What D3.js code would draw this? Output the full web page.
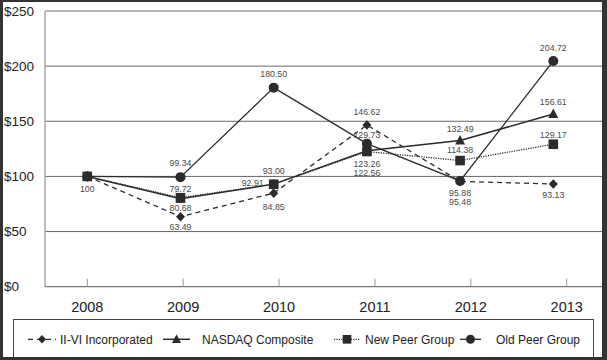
<!DOCTYPE html>
<html><head><meta charset="utf-8">
<script src="https://cdn.jsdelivr.net/npm/d3@7"></script>
<style>html,body{margin:0;padding:0;background:#fff;}svg{display:block;}</style>
</head><body>
<svg id="c" width="607" height="360"></svg>
<script>
// ---- data ----
const years = ["2008", "2009", "2010", "2011", "2012", "2013"];
const seriesNames = ["II-VI Incorporated", "NASDAQ Composite", "New Peer Group", "Old Peer Group"];
const iiviValues = [100, 63.49, 84.85, 146.62, 95.48, 93.13];
const nasdaqValues = [100, 79.72, 93.00, 123.26, 132.49, 156.61];
const newPeerValues = [100, 80.68, 92.91, 122.56, 114.38, 129.17];
const oldPeerValues = [100, 99.34, 180.50, 129.73, 95.88, 204.72];
const yTicks = [0, 50, 100, 150, 200, 250];

// ---- layout / style ----
const W = 607, H = 360;
const svg = d3.select("#c");
const font = "'Liberation Sans', Arial, Helvetica, sans-serif";
const ink = "#2b2b2b";
const y = d3.scaleLinear().domain([0, 250]).range([286.7, 11]);
const xTick = d3.scalePoint().domain(years).range([87.3, 566.7]);
const xMark = d3.scalePoint().domain(years).range([87.3, 553.3]);
const plotL = 45, plotR = 603;

const styles = [
  {dash: "5,4", width: 1.3, marker: "diamond"},
  {dash: null, width: 1.5, marker: "triangle"},
  {dash: "1.2,1.2", width: 1.3, marker: "square"},
  {dash: null, width: 1.3, marker: "circle"}
];
const seriesValues = [iiviValues, nasdaqValues, newPeerValues, oldPeerValues];

// label offsets [dx, dy] per series per year (null = no label)
const labelOffsets = [
  [null, [0, 10.3], [0, 13.5], [0, -12.7], [0, 21], [0, 11]],
  [null, [0, -10], [0, -13], [0, 13.2], [0, -11.6], [0, -11.7]],
  [[0, 12.7], [0, 10], [-21, -1.5], [0, 21.8], [0, -10.6], [0, -9.2]],
  [null, [0, -14], [0, -13.3], [0, -8.3], [0, 12.4], [0, -12.6]]
];

// background
svg.append("rect").attr("x", 0).attr("y", 0).attr("width", W).attr("height", H).attr("fill", "#fff");

// gridlines
yTicks.forEach(t => {
  if (t === 0) return;
  svg.append("line").attr("x1", plotL).attr("x2", plotR)
    .attr("y1", y(t)).attr("y2", y(t))
    .attr("stroke", t === 250 ? "#9a9a9a" : "#666").attr("stroke-width", t === 250 ? 1.5 : 1);
});
// left axis
svg.append("line").attr("x1", plotL).attr("x2", plotL).attr("y1", y(250)).attr("y2", y(0))
  .attr("stroke", "#a8a8a8").attr("stroke-width", 1.5);
// bottom axis
svg.append("line").attr("x1", plotL).attr("x2", plotR).attr("y1", y(0)).attr("y2", y(0))
  .attr("stroke", "#777").attr("stroke-width", 1.2);
// x ticks
years.forEach(yr => {
  svg.append("line").attr("x1", xTick(yr)).attr("x2", xTick(yr)).attr("y1", y(0) - 8).attr("y2", y(0))
    .attr("stroke", "#999").attr("stroke-width", 1);
});

// y labels
yTicks.forEach(t => {
  svg.append("text").attr("x", 4).attr("y", y(t)).attr("dy", "0.35em")
    .attr("font-family", font).attr("font-size", 13.5).attr("fill", "#222")
    .text("$" + t);
});
// x labels
years.forEach(yr => {
  svg.append("text").attr("x", xTick(yr)).attr("y", 312)
    .attr("text-anchor", "middle").attr("font-family", font).attr("font-size", 14.5).attr("fill", "#222")
    .text(yr);
});

function markerPath(kind) {
  if (kind === "diamond") return "M0,-4.8L4.5,0L0,4.8L-4.5,0Z";
  if (kind === "triangle") return "M0,-5.5L5,4L-5,4Z";
  if (kind === "square") return "M-4.8,-4.8H4.8V4.8H-4.8Z";
  return d3.arc()({innerRadius: 0, outerRadius: 5, startAngle: 0, endAngle: 2 * Math.PI});
}

const line = d3.line().x((d, i) => xMark(years[i])).y(d => y(d));

// draw order: II-VI, NASDAQ, Old Peer, New Peer
const order = [0, 1, 3, 2];
order.forEach(si => {
  const st = styles[si];
  const vals = seriesValues[si];
  svg.append("path").attr("d", line(vals)).attr("fill", "none")
    .attr("stroke", ink).attr("stroke-width", st.width)
    .attr("stroke-dasharray", st.dash);
  vals.forEach((v, i) => {
    svg.append("path").attr("d", markerPath(st.marker))
      .attr("transform", `translate(${xMark(years[i])},${y(v)})`)
      .attr("fill", ink);
  });
});

// data labels
const fmt = v => (v === 100 ? "100" : d3.format(".2f")(v));
seriesValues.forEach((vals, si) => {
  vals.forEach((v, i) => {
    const off = labelOffsets[si][i];
    if (!off) return;
    svg.append("text").attr("x", xMark(years[i]) + off[0]).attr("y", y(v) + off[1])
      .attr("dy", "0.35em").attr("text-anchor", "middle")
      .attr("font-family", font).attr("font-size", 8.8).attr("fill", "#4a4a4a")
      .text(fmt(v));
  });
});

// legend
svg.append("rect").attr("x", 13.5).attr("y", 319.5).attr("width", 580).attr("height", 40)
  .attr("fill", "#fff").attr("stroke", "#444").attr("stroke-width", 1);
const legendItems = [
  {x1: 28, x2: 56, tx: 60},
  {x1: 163, x2: 190, tx: 202},
  {x1: 334, x2: 360, tx: 365},
  {x1: 460, x2: 481, tx: 496}
];
const ly = 339.3;
legendItems.forEach((li, si) => {
  const st = styles[si];
  svg.append("line").attr("x1", li.x1).attr("x2", li.x2).attr("y1", ly).attr("y2", ly)
    .attr("stroke", ink).attr("stroke-width", st.width).attr("stroke-dasharray", st.dash);
  svg.append("path").attr("d", markerPath(st.marker))
    .attr("transform", `translate(${(li.x1 + li.x2) / 2},${ly}) scale(0.9)`).attr("fill", ink);
  svg.append("text").attr("x", li.tx).attr("y", ly).attr("dy", "0.35em")
    .attr("font-family", font).attr("font-size", 12).attr("fill", "#222")
    .text(seriesNames[si]);
});

// outer frame
svg.append("rect").attr("x", 0).attr("y", 0).attr("width", 3).attr("height", H).attr("fill", "#333");
svg.append("rect").attr("x", 0).attr("y", 0).attr("width", W).attr("height", 2).attr("fill", "#333");
svg.append("rect").attr("x", 602).attr("y", 0).attr("width", 5).attr("height", H).attr("fill", "#333");
svg.append("rect").attr("x", 0).attr("y", 357).attr("width", W).attr("height", 3).attr("fill", "#333");
</script>
</body></html>
